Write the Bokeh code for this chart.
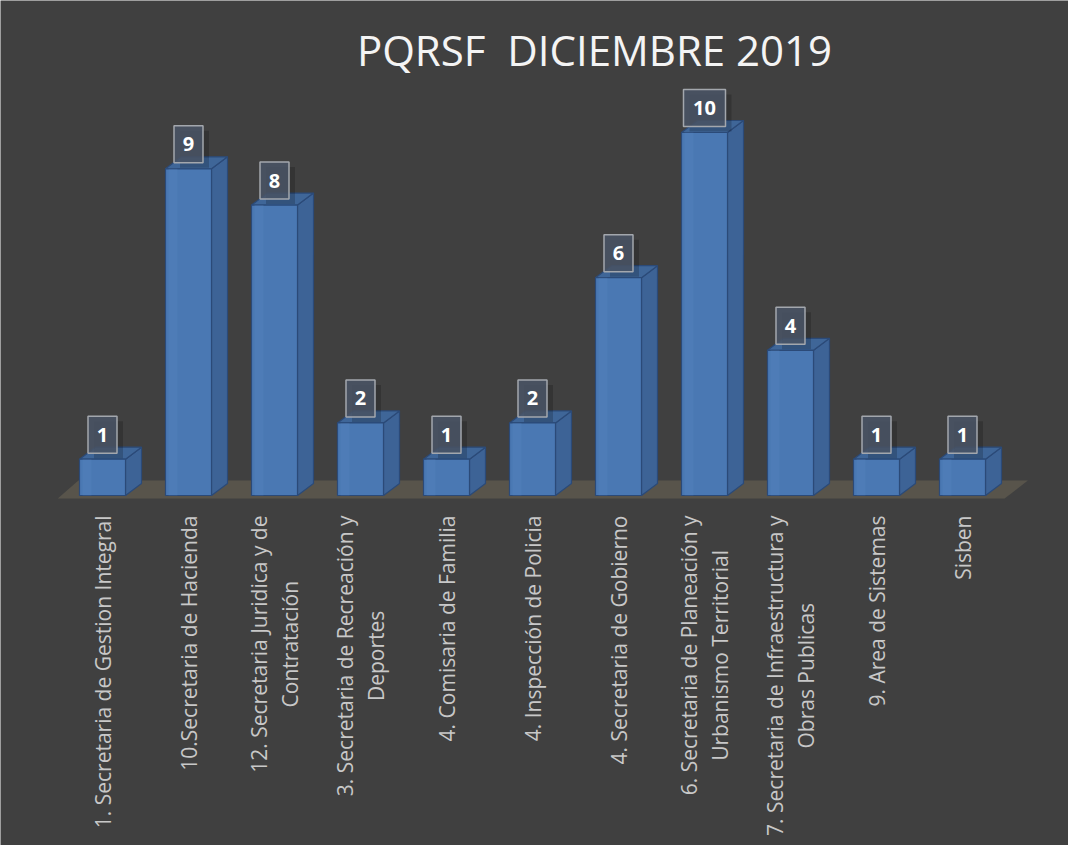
import math
from bokeh.plotting import figure
from bokeh.models import ColumnDataSource, Label
from bokeh.core.properties import value
from bokeh.embed import file_html
from bokeh.resources import INLINE

# ---- data ----
categories = [
    "1. Secretaria de Gestion Integral",
    "10.Secretaria de Hacienda",
    "12. Secretaria Juridica y de\nContratación",
    "3. Secretaria de Recreación y\nDeportes",
    "4. Comisaria de Familia",
    "4. Inspección de Policia",
    "4. Secretaria de Gobierno",
    "6. Secretaria de Planeación y\nUrbanismo Territorial",
    "7. Secretaria de Infraestructura y\nObras Publicas",
    "9. Area de Sistemas",
    "Sisben",
]
counts = [1, 9, 8, 2, 1, 2, 6, 10, 4, 1, 1]
title_text = "PQRSF \u00a0DICIEMBRE 2019"

# ---- layout ----
W, H = 1068, 845
PX_X = 86.0      # px per category
PX_Y = 36.3      # px per unit
X0_PX = 102.0    # frame px of first category centre
BASE_PX = 495.0  # frame px (from top) of the bar base

x_start = -X0_PX / PX_X
x_end = x_start + W / PX_X
y_end = BASE_PX / PX_Y
y_start = y_end - H / PX_Y

BG = "#404040"
p = figure(width=W, height=H, x_range=(x_start, x_end), y_range=(y_start, y_end),
           min_border=0, toolbar_location=None, output_backend="svg",
           background_fill_color=BG, border_fill_color=BG, outline_line_color=None)
p.xaxis.visible = False
p.yaxis.visible = False
p.grid.visible = False

n = len(counts)
xs = list(range(n))
hw = 23.0 / PX_X          # half width of front face
ddx = 16.0 / PX_X          # 3D depth offset x
ddy = 12.0 / PX_Y          # 3D depth offset y

# floor
fb = -3.0 / PX_Y
ft = 15.0 / PX_Y
p.patch(x=[-0.52, n - 0.51, n - 0.51 + 0.27, -0.52 + 0.24],
        y=[fb, fb, ft, ft], fill_color="#58544b", line_color=None)

EDGE = "#2b4a78"
# side faces
side_x = [[x + hw, x + hw + ddx, x + hw + ddx, x + hw] for x in xs]
side_y = [[0, ddy, v + ddy, v] for v in counts]
p.patches(xs=side_x, ys=side_y, fill_color="#3d6396", line_color=EDGE, line_width=1.2)
# top faces
top_x = [[x - hw, x - hw + ddx, x + hw + ddx, x + hw] for x in xs]
top_y = [[v, v + ddy, v + ddy, v] for v in counts]
p.patches(xs=top_x, ys=top_y, fill_color="#3f6698", line_color=EDGE, line_width=1.2)
# front faces
src = ColumnDataSource(dict(x=xs, v=counts, left=[x - hw for x in xs], right=[x + hw for x in xs],
                            ly=[v + 24.5 / PX_Y for v in counts],
                            sx=[x + 6.0 / PX_X for x in xs],
                            sy=[v + 24.5 / PX_Y - 5.0 / PX_Y for v in counts],
                            bw=[16 + 13 * len(str(v)) for v in counts],
                            lab=[str(v) for v in counts],
                            cat=categories))
p.quad(left="left", right="right", bottom=0, top="v", source=src,
       fill_color="#4a78b3", line_color=EDGE, line_width=1.2)
# subtle highlight strip on the front face
p.quad(left=[x - hw + 3.0 / PX_X for x in xs], right=[x - hw + 12.0 / PX_X for x in xs],
       bottom=[0] * n, top=counts, fill_color="#5a88c2", fill_alpha=0.25, line_color=None)

# data label boxes (shadow + box + text)
p.rect(x="sx", y="sy", width="bw", height=37, width_units="screen", height_units="screen",
       source=src, fill_color="#000000", fill_alpha=0.18, line_color=None)
p.rect(x="x", y="ly", width="bw", height=37, width_units="screen", height_units="screen",
       source=src, fill_color="#4a5566", fill_alpha=0.85, line_color="#a3a7ad", line_width=1.5)
p.text(x="x", y="ly", text="lab", source=src, text_align="center", text_baseline="middle",
       text_font=value("Open Sans"), text_font_style="bold", text_font_size="20px",
       text_color="#ffffff")

# category labels (rotated)
p.text(x="x", y=0, text="cat", source=src, angle=math.pi / 2, anchor="center_right",
       text_align="center", y_offset=20, text_font=value("Open Sans"),
       text_font_size="21px", text_color="#c8c8c8", text_line_height=1.1)

# title
p.add_layout(Label(x=594, y=H - 49, x_units="screen", y_units="screen", text=title_text,
                   text_align="center", text_baseline="alphabetic",
                   text_font="Open Sans", text_font_size="42px", text_color="#f4f4f4"))

open("out.html", "w").write(file_html(p, INLINE))
